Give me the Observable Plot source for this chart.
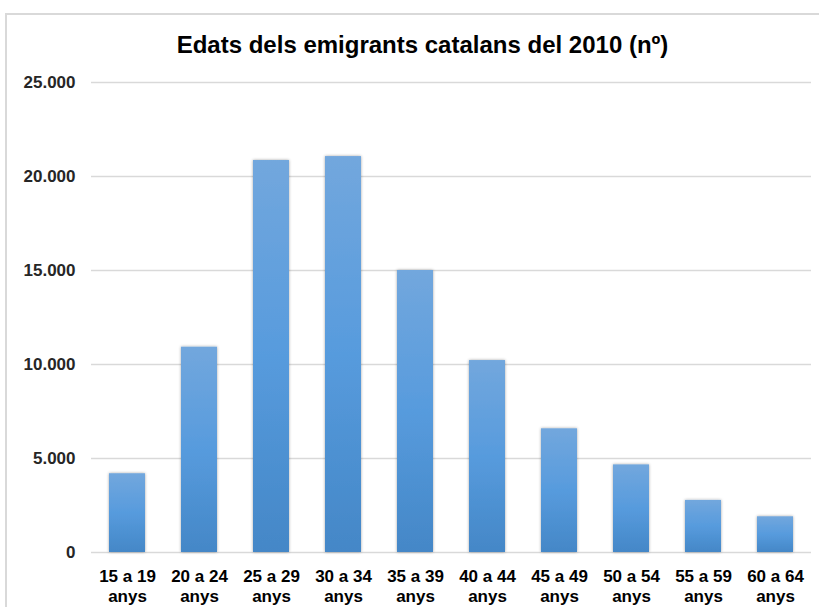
<!DOCTYPE html>
<html>
<head>
<meta charset="utf-8">
<script src="https://cdn.jsdelivr.net/npm/d3@7"></script>
<script src="https://cdn.jsdelivr.net/npm/@observablehq/plot@0.6"></script>
<style>
  html, body { margin: 0; padding: 0; background: #fff; }
  #frame { position: absolute; left: 5px; top: 13px; width: 900px; height: 700px;
           border-left: 2px solid #d9d9d9; border-top: 2px solid #d9d9d9; }
  #title { position: absolute; left: 0; top: 0; width: 845px; height: 62px; text-align: center;
           font-family: "Liberation Sans", Arial, sans-serif; font-weight: bold;
           font-size: 24px; line-height: 24px; padding-top: 33px; box-sizing: border-box; color: #000; }
  #chart { position: absolute; left: 0; top: 62px; }
</style>
</head>
<body>
<div id="frame"></div>
<div id="title">Edats dels emigrants catalans del 2010 (nº)</div>
<div id="chart"></div>
<script>
const ageGroups = ["15 a 19 anys","20 a 24 anys","25 a 29 anys","30 a 34 anys","35 a 39 anys",
                   "40 a 44 anys","45 a 49 anys","50 a 54 anys","55 a 59 anys","60 a 64 anys"];
const emigrants = [4190, 10920, 20850, 21060, 15000, 10210, 6580, 4660, 2770, 1900];
const yTicks = [0, 5000, 10000, 15000, 20000, 25000];
const yTickLabels = ["0", "5.000", "10.000", "15.000", "20.000", "25.000"];

const data = ageGroups.map((g, i) => ({group: g, value: emigrants[i]}));

const chart = Plot.plot({
  width: 819,
  height: 545,
  marginTop: 20,
  marginBottom: 55,
  marginLeft: 91,
  marginRight: 8,
  x: {domain: ageGroups, paddingInner: 0.5, paddingOuter: 0.25, label: null},
  y: {domain: [0, 25000], label: null},
  marks: [
    Plot.gridY(yTicks, {stroke: "#d9d9d9", strokeOpacity: 1, strokeWidth: 1.5}),
    Plot.barY(data, {x: "group", y: "value", fill: "#5b9bd5"}),
    Plot.axisY(yTicks, {tickSize: 0, tickPadding: 16, tickFormat: (d) => yTickLabels[yTicks.indexOf(d)],
      fontSize: 17, fontWeight: "bold", fill: "#262626", fontFamily: "Liberation Sans, Arial, sans-serif"}),
    Plot.axisX({tickSize: 0, tickPadding: 16, tickFormat: (d) => d.replace(" anys", "\nanys"),
      lineHeight: 1.15, fontSize: 17, fontWeight: "bold", fill: "#000",
      fontFamily: "Liberation Sans, Arial, sans-serif"})
  ]
});

const svg = d3.select(chart);
const defs = svg.insert("defs", ":first-child");
const grad = defs.append("linearGradient").attr("id", "barGrad")
  .attr("x1", 0).attr("y1", 0).attr("x2", 0).attr("y2", 1);
grad.append("stop").attr("offset", "0%").attr("stop-color", "#72a7dd");
grad.append("stop").attr("offset", "50%").attr("stop-color", "#579bdd");
grad.append("stop").attr("offset", "100%").attr("stop-color", "#4487c7");
const filt = defs.append("filter").attr("id", "barShadow")
  .attr("x", "-30%").attr("y", "-10%").attr("width", "160%").attr("height", "120%");
filt.append("feDropShadow").attr("dx", 0).attr("dy", 0).attr("stdDeviation", 1.5)
  .attr("flood-color", "#000").attr("flood-opacity", 0.35);
svg.selectAll("g[aria-label='bar'] rect").attr("fill", "url(#barGrad)").attr("filter", "url(#barShadow)");

document.getElementById("chart").appendChild(chart);
</script>
</body>
</html>
